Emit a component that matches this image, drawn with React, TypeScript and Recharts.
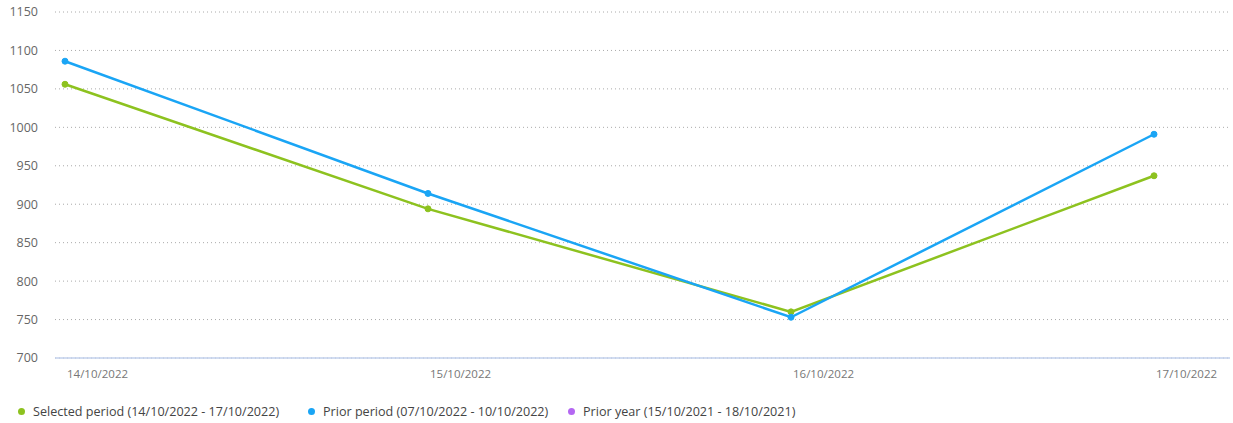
import React from 'react'
import { LineChart, Line, XAxis, YAxis, CartesianGrid, Legend } from 'recharts'

const dates = ['14/10/2022', '15/10/2022', '16/10/2022', '17/10/2022']
const selectedPeriod = [1056, 894, 760, 937]
const priorPeriod = [1086, 914, 753, 991]
const priorYear: (number | null)[] = [null, null, null, null]
const yTicks = [700, 750, 800, 850, 900, 950, 1000, 1050, 1100, 1150]

const SERIES = [
  { key: 'selected', name: 'Selected period (14/10/2022 - 17/10/2022)', color: '#8dc21f' },
  { key: 'prior', name: 'Prior period (07/10/2022 - 10/10/2022)', color: '#1aa5f5' },
  { key: 'priorYear', name: 'Prior year (15/10/2021 - 18/10/2021)', color: '#b467f2' },
]

const data = dates.map((d, i) => ({
  date: d,
  selected: selectedPeriod[i],
  prior: priorPeriod[i],
  priorYear: priorYear[i],
}))

const FONT = '"Open Sans", "Noto Sans", sans-serif'

function XTick({ x, y, payload }: { x: number; y: number; payload: { value: string } }) {
  return (
    <text x={x + 2} y={y + 12} fill="#777" fontSize={11.5} fontFamily={FONT} textAnchor="start">
      {payload.value}
    </text>
  )
}

function LegendContent() {
  const widths = [290, 260, 300]
  return (
    <div style={{ display: 'flex', alignItems: 'center', paddingLeft: 18, fontFamily: FONT, fontSize: 12.6, color: '#444' }}>
      {SERIES.map((s, i) => (
        <div key={s.key} style={{ display: 'flex', alignItems: 'center', width: widths[i], whiteSpace: 'nowrap' }}>
          <span style={{ width: 7, height: 7, borderRadius: '50%', background: s.color, display: 'inline-block', marginRight: 8 }} />
          <span>{s.name}</span>
        </div>
      ))}
    </div>
  )
}

export default function App() {
  return (
    <div style={{ position: 'fixed', left: 0, top: 0, width: 1233, height: 423, background: '#fff' }}>
      <LineChart width={1233} height={423} data={data} margin={{ top: 12, right: 3, left: 0, bottom: 8 }}>
        <CartesianGrid vertical={false} stroke="#aaa" strokeDasharray="1 3" />
        <XAxis
          dataKey="date"
          tick={XTick as any}
          tickLine={false}
          axisLine={{ stroke: '#c2d1ec', strokeWidth: 1.5 }}
          padding={{ left: 10, right: 76 }}
          height={40}
          interval={0}
        />
        <YAxis
          domain={[700, 1150]}
          ticks={yTicks}
          width={55}
          axisLine={false}
          tickLine={false}
          tickMargin={11}
          tick={{ fill: '#666', fontSize: 12.5, fontFamily: FONT }}
        />
        <Legend content={<LegendContent />} verticalAlign="bottom" wrapperStyle={{ bottom: 3 }} />
        {SERIES.map((s) => (
          <Line
            key={s.key}
            dataKey={s.key}
            name={s.name}
            stroke={s.color}
            strokeWidth={2.5}
            dot={{ r: 3, fill: s.color, stroke: s.color, strokeWidth: 1 }}
            activeDot={false}
            isAnimationActive={false}
          />
        ))}
      </LineChart>
    </div>
  )
}
